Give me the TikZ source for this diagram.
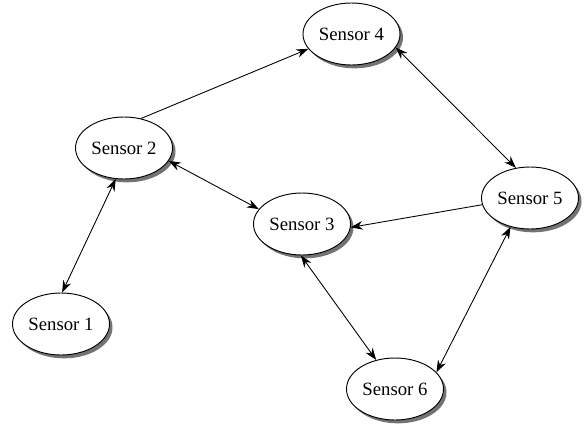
\documentclass[tikz,border=0pt]{standalone}
\usepackage{fontspec}
\setmainfont{Liberation Serif}
\usetikzlibrary{arrows.meta,shapes.geometric,shadows}

\begin{document}
\begin{tikzpicture}[>={Stealth[length=0.36cm,width=0.26cm]},line cap=round,
    sensor/.style={ellipse,draw,thick,fill=white,inner sep=0pt,
      minimum width=2.91cm,minimum height=1.86cm,
      font=\fontsize{16}{19}\selectfont,
      drop shadow={shadow xshift=0.09cm,shadow yshift=-0.1cm,fill=black!55,opacity=1}},
    link/.style={line width=0.75pt}]
        \useasboundingbox (0,0) rectangle (17.61,-12.84);
        \node[sensor] (s4) at (10.545,-1.02) {Sensor 4};
        \node[sensor] (s2) at (3.72,-4.44)   {Sensor 2};
        \node[sensor] (s3) at (9.06,-6.72)   {Sensor 3};
        \node[sensor] (s5) at (15.9,-5.94)   {Sensor 5};
        \node[sensor] (s1) at (1.83,-9.72)   {Sensor 1};
        \node[sensor] (s6) at (11.85,-11.67) {Sensor 6};
        \draw[link,->]  (s2.60)  -- (s4.199);
        \draw[link,<->] (s4.343) -- (s5.115);
        \draw[link,<->] (s2.344) -- (s3.161);
        \draw[link,->]  (s5.188) -- (s3.356);
        \draw[link,<->] (s2.255) -- (s1.88);
        \draw[link,<->] (s3.268) -- (s6.123);
        \draw[link,<->] (s5.236) -- (s6.22);
      \end{tikzpicture}
\end{document}
